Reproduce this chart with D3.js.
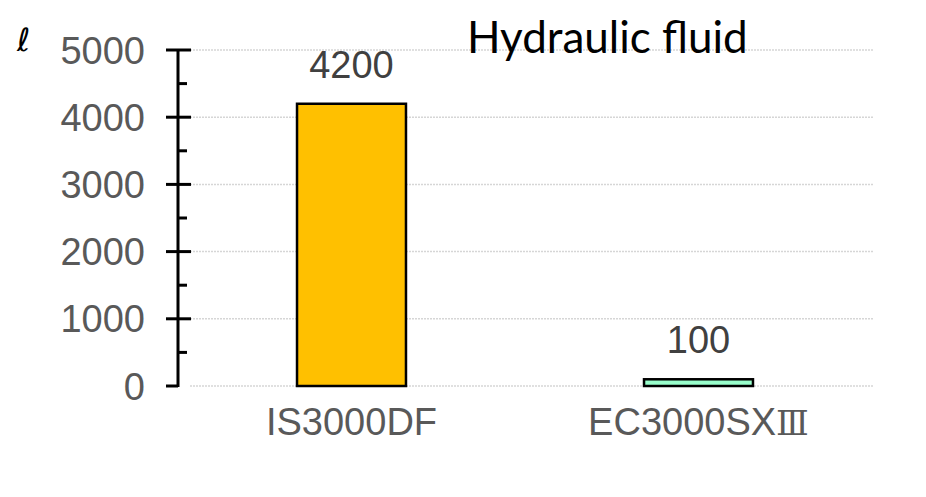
<!DOCTYPE html>
<html>
<head>
<meta charset="utf-8">
<script src="https://cdn.jsdelivr.net/npm/d3@7"></script>
<style>
  body { margin: 0; background: #fff; }
  svg { display: block; }
</style>
</head>
<body>
<div id="chart"></div>
<script>
// Data
const categories = ["IS3000DF", "EC3000SX\u2162"];
const values = [4200, 100];
const barColors = ["#FFC000", "#99FFCC"];
const yTicks = [0, 1000, 2000, 3000, 4000, 5000];
const yMinorTicks = [500, 1500, 2500, 3500, 4500];
const title = "Hydraulic fluid";
const unitLabel = "\u2113";

const width = 926;
const height = 497;

const svg = d3.select("#chart").append("svg")
    .attr("width", width)
    .attr("height", height);

const axisX = 178;
const plotRight = 873;
const labelFont = "Liberation Sans, Arial, sans-serif";

const x = d3.scaleBand()
    .domain(categories)
    .range([axisX, 872])
    .paddingInner(0.686)
    .paddingOuter(0.343);

const y = d3.scaleLinear()
    .domain([0, 5000])
    .range([386, 50]);

// Gridlines
svg.append("g")
    .selectAll("line")
    .data(yTicks)
    .enter().append("line")
    .attr("x1", 190)
    .attr("x2", plotRight)
    .attr("y1", d => y(d))
    .attr("y2", d => y(d))
    .attr("stroke", "#d6d6d6")
    .attr("stroke-width", 1.5)
    .attr("stroke-dasharray", "2,1");

// Bars
svg.append("g")
    .selectAll("rect")
    .data(values)
    .enter().append("rect")
    .attr("x", (d, i) => x(categories[i]))
    .attr("y", d => y(d))
    .attr("width", x.bandwidth())
    .attr("height", d => y(0) - y(d))
    .attr("fill", (d, i) => barColors[i])
    .attr("stroke", "#000")
    .attr("stroke-width", 2.5);

// Y axis (major ticks cross the line, minor ticks on the right)
const yAxis = svg.append("g").attr("transform", `translate(${axisX},0)`);
yAxis.append("line")
    .attr("y1", y(5000) - 1)
    .attr("y2", y(0) + 1)
    .attr("stroke", "#000")
    .attr("stroke-width", 3);
yAxis.selectAll(".major")
    .data(yTicks)
    .enter().append("line")
    .attr("class", "major")
    .attr("x1", -12)
    .attr("x2", d => d === 0 ? 0 : 13)
    .attr("y1", d => y(d))
    .attr("y2", d => y(d))
    .attr("stroke", "#000")
    .attr("stroke-width", 3);
yAxis.selectAll(".minor")
    .data(yMinorTicks)
    .enter().append("line")
    .attr("class", "minor")
    .attr("x1", 0)
    .attr("x2", 9)
    .attr("y1", d => y(d))
    .attr("y2", d => y(d))
    .attr("stroke", "#000")
    .attr("stroke-width", 3);
yAxis.selectAll("text")
    .data(yTicks)
    .enter().append("text")
    .attr("x", -33)
    .attr("y", d => y(d))
    .attr("dy", "0.36em")
    .attr("text-anchor", "end")
    .attr("font-family", labelFont)
    .attr("font-size", 38)
    .attr("fill", "#595959")
    .text(d => d);

// Category labels (roman numeral drawn in a serif font)
const cat = svg.append("g")
    .selectAll("text")
    .data(categories)
    .enter().append("text")
    .attr("x", d => x(d) + x.bandwidth() / 2)
    .attr("y", 435)
    .attr("text-anchor", "middle")
    .attr("font-family", labelFont)
    .attr("font-size", 38)
    .attr("fill", "#595959");
cat.each(function(d) {
    const t = d3.select(this);
    const m = d.match(/^(.*?)([\u2160-\u217F]*)$/);
    t.append("tspan").text(m[1]);
    if (m[2]) {
        t.append("tspan")
            .attr("font-family", "'DejaVu Serif', serif")
            .attr("font-size", 34)
            .text(m[2]);
    }
});

// Value labels
svg.append("g")
    .selectAll("text")
    .data(values)
    .enter().append("text")
    .attr("x", (d, i) => x(categories[i]) + x.bandwidth() / 2)
    .attr("y", d => y(d) - 26)
    .attr("text-anchor", "middle")
    .attr("font-family", labelFont)
    .attr("font-size", 38)
    .attr("fill", "#404040")
    .text(d => d);

// Title
svg.append("text")
    .attr("x", 467)
    .attr("y", 53)
    .attr("font-family", "Lato, 'Open Sans', sans-serif")
    .attr("font-size", 44)
    .attr("fill", "#000")
    .text(title);

// Unit
svg.append("text")
    .attr("x", 17)
    .attr("y", 51)
    .attr("font-family", "DejaVu Serif, DejaVu Sans, serif")
    .attr("font-size", 32)
    .attr("font-style", "italic")
    .attr("fill", "#000")
    .text(unitLabel);
</script>
</body>
</html>
